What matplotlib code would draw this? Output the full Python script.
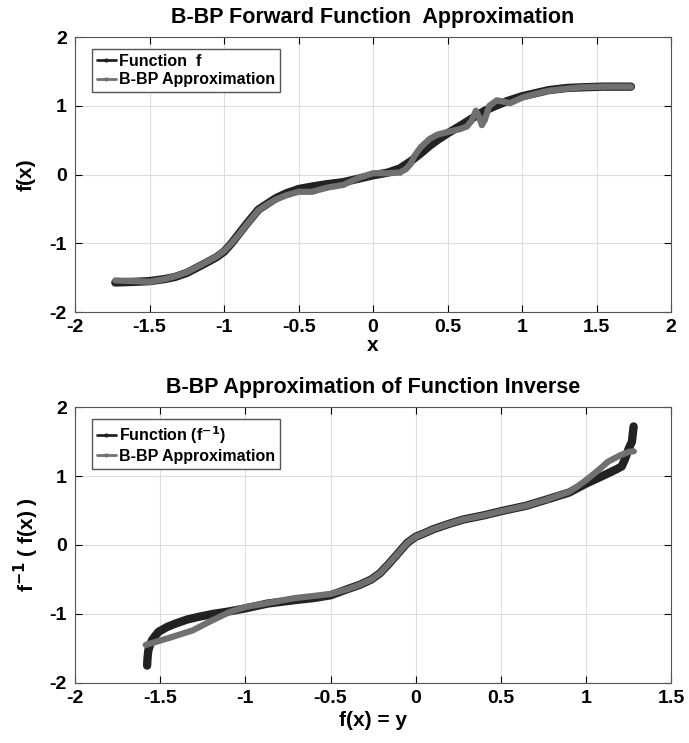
import matplotlib
matplotlib.use("Agg")
import matplotlib.pyplot as plt

# forward function f(x) and its B-BP approximation
fx_x = [-1.73, -1.6, -1.5, -1.4, -1.33, -1.25, -1.17, -1.1, -1.05, -1.0, -0.95, -0.9, -0.85,
        -0.8, -0.77, -0.7, -0.65, -0.58, -0.5, -0.4, -0.31, -0.2, -0.1,
        0.0, 0.1, 0.18, 0.25, 0.32, 0.38, 0.43, 0.5, 0.6, 0.68, 0.75, 0.8, 0.9, 1.0, 1.1,
        1.18, 1.3, 1.4, 1.55, 1.73]
fx_y = [-1.57, -1.56, -1.55, -1.52, -1.49, -1.43, -1.34, -1.26, -1.2, -1.12, -1.0, -0.86, -0.72,
        -0.59, -0.51, -0.41, -0.34, -0.27, -0.21, -0.17, -0.14, -0.11, -0.06,
        -0.01, 0.03, 0.09, 0.19, 0.31, 0.42, 0.5, 0.6, 0.73, 0.84, 0.93, 0.98, 1.07, 1.14, 1.19,
        1.23, 1.26, 1.27, 1.28, 1.28]

ap_x = [-1.73, -1.6, -1.5, -1.4, -1.33, -1.25, -1.17, -1.1, -1.05, -1.0, -0.95, -0.9, -0.85,
        -0.8, -0.77, -0.7, -0.65, -0.58, -0.5, -0.41, -0.31,
        -0.2, -0.1, 0.0, 0.1, 0.18, 0.22, 0.25, 0.28, 0.32, 0.38, 0.43, 0.5, 0.58, 0.63,
        0.66, 0.69, 0.71, 0.73, 0.75, 0.78, 0.83, 0.88, 0.92, 1.0, 1.1, 1.18, 1.3, 1.4,
        1.55, 1.73]
ap_y = [-1.54, -1.55, -1.56, -1.52, -1.48, -1.42, -1.33, -1.25, -1.19, -1.11, -1.0, -0.87, -0.73,
        -0.6, -0.52, -0.42, -0.36, -0.3, -0.25, -0.25, -0.19,
        -0.15, -0.05, 0.02, 0.02, 0.03, 0.08, 0.15, 0.28, 0.4, 0.52, 0.58, 0.62, 0.66, 0.7,
        0.78, 0.93, 0.85, 0.72, 0.8, 1.0, 1.08, 1.06, 1.04, 1.12, 1.18, 1.22, 1.25, 1.27,
        1.28, 1.28]

# inverse function and its B-BP approximation
inv_x = [-1.577, -1.575, -1.57, -1.56, -1.548, -1.53, -1.51, -1.46, -1.41, -1.34, -1.27,
         -1.19, -1.11, -1.0, -0.87, -0.71, -0.6, -0.5, -0.4, -0.33, -0.26, -0.21, -0.16,
         -0.11, -0.05, 0.0, 0.05, 0.105, 0.2, 0.28, 0.4, 0.5, 0.65, 0.77, 0.9, 1.0, 1.07,
         1.13, 1.18, 1.21, 1.23, 1.25, 1.27, 1.28]
inv_y = [-1.75, -1.65, -1.53, -1.45, -1.38, -1.32, -1.26, -1.19, -1.14, -1.08, -1.04,
         -1.0, -0.97, -0.92, -0.85, -0.8, -0.77, -0.73, -0.64, -0.58, -0.5, -0.41, -0.28,
         -0.14, 0.03, 0.12, 0.17, 0.23, 0.31, 0.37, 0.43, 0.49, 0.57, 0.66, 0.76, 0.89, 0.97,
         1.04, 1.1, 1.14, 1.25, 1.39, 1.5, 1.72]

iap_x = [-1.585, -1.45, -1.31, -1.2, -1.09, -1.0, -0.82, -0.71, -0.6, -0.5, -0.4, -0.33,
         -0.26, -0.21, -0.16, -0.11, -0.05, 0.0, 0.05, 0.105, 0.2, 0.28, 0.4, 0.5, 0.65,
         0.77, 0.9, 0.95, 1.0, 1.07, 1.13, 1.2, 1.25, 1.28]
iap_y = [-1.45, -1.35, -1.24, -1.1, -0.97, -0.9, -0.82, -0.77, -0.74, -0.71, -0.64, -0.58,
         -0.5, -0.41, -0.28, -0.14, 0.03, 0.12, 0.17, 0.23, 0.31, 0.37, 0.43, 0.49, 0.57,
         0.66, 0.77, 0.85, 0.94, 1.08, 1.21, 1.3, 1.35, 1.36]

DARK = "#222222"
GRAY = "#707070"

plt.rcParams["font.family"] = ["Liberation Sans", "DejaVu Sans"]
plt.rcParams["font.weight"] = "bold"


def style(ax):
    ax.grid(True, color="#dddddd", lw=0.8)
    ax.set_axisbelow(True)
    ax.tick_params(direction="in", top=True, right=True, labelsize=14, length=5, width=0.8)
    ax.tick_params(axis="x", pad=5)
    ax.tick_params(axis="y", pad=6)
    for lab in ax.get_xticklabels() + ax.get_yticklabels():
        lab.set_fontweight("bold")
    for s in ax.spines.values():
        s.set_color("#555555")
        s.set_linewidth(0.8)


def add_legend(ax):
    leg = ax.legend(loc="upper left", fontsize=11.5, handlelength=1.2, handletextpad=0.2,
                    borderpad=0.3, labelspacing=0.2, fancybox=False, framealpha=1,
                    edgecolor="#555555", bbox_to_anchor=(0.015, 0.985))
    for t in leg.get_texts():
        t.set_fontweight("bold")
    for h in leg.get_lines():
        h.set_linewidth(2)


def main():
    fig = plt.figure(figsize=(6.89, 7.43), dpi=100)
    ax1 = fig.add_axes([0.109, 0.580, 0.865, 0.370])
    ax2 = fig.add_axes([0.109, 0.081, 0.865, 0.371])

    kw = dict(marker=".", ms=4, solid_capstyle="round", solid_joinstyle="round")
    ax1.plot(fx_x, fx_y, color=DARK, lw=6, label="Function  f", **kw)
    ax1.plot(ap_x, ap_y, color=GRAY, lw=4.5, label="B-BP Approximation", **kw)
    ax1.set_xlim(-2, 2)
    ax1.set_ylim(-2, 2)
    ax1.set_xticks([-2, -1.5, -1, -0.5, 0, 0.5, 1, 1.5, 2])
    ax1.set_xticklabels(["-2", "-1.5", "-1", "-0.5", "0", "0.5", "1", "1.5", "2"])
    ax1.set_yticks([-2, -1, 0, 1, 2])
    ax1.set_yticklabels(["-2", "-1", "0", "1", "2"])
    ax1.set_title("B-BP Forward Function  Approximation", fontsize=15.5, fontweight="bold", pad=10)
    ax1.set_xlabel("x", fontsize=15, fontweight="bold", labelpad=0)
    ax1.set_ylabel("f(x)", fontsize=15, fontweight="bold", labelpad=10)
    style(ax1)
    add_legend(ax1)

    ax2.plot(inv_x, inv_y, color=DARK, lw=6, label="Function (f$^{\\mathbf{-1}}$)", **kw)
    ax2.plot(iap_x, iap_y, color=GRAY, lw=4.5, label="B-BP Approximation", **kw)
    ax2.set_xlim(-2, 1.5)
    ax2.set_ylim(-2, 2)
    ax2.set_xticks([-2, -1.5, -1, -0.5, 0, 0.5, 1, 1.5])
    ax2.set_xticklabels(["-2", "-1.5", "-1", "-0.5", "0", "0.5", "1", "1.5"])
    ax2.set_yticks([-2, -1, 0, 1, 2])
    ax2.set_yticklabels(["-2", "-1", "0", "1", "2"])
    ax2.set_title("B-BP Approximation of Function Inverse", fontsize=15.5, fontweight="bold", pad=10)
    ax2.set_xlabel("f(x) = y", fontsize=15, fontweight="bold", labelpad=3)
    ax2.set_ylabel("f$^{\\mathbf{-1}}$ ( f(x) )", fontsize=15, fontweight="bold", labelpad=6)
    style(ax2)
    add_legend(ax2)

    fig.savefig("out.png", dpi=100)


if __name__ == "__main__":
    main()
